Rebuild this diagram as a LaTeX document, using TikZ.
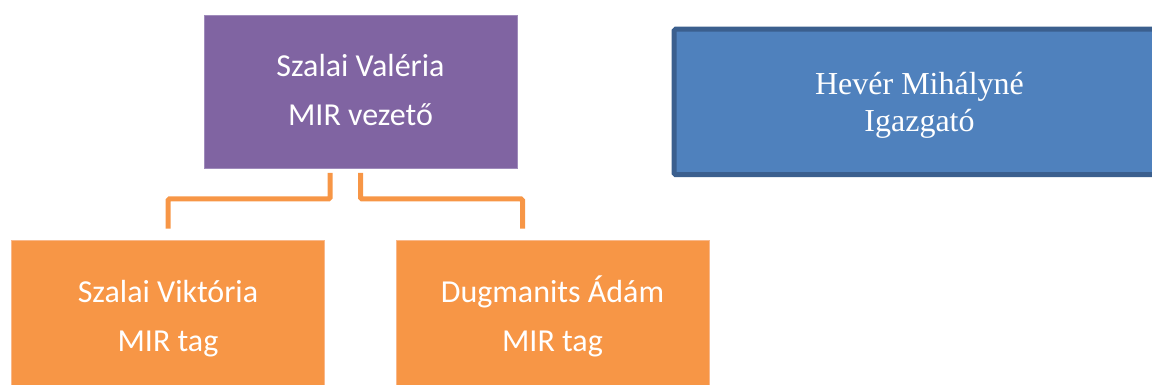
\documentclass[tikz,border=0pt]{standalone}
\usepackage{fontspec}
\setmainfont{Carlito}
\newfontfamily\timesf{Liberation Serif}
\definecolor{purp}{HTML}{8064A2}
\definecolor{purpedge}{HTML}{9F8BBB}
\definecolor{oran}{HTML}{F79646}
\definecolor{oranedge}{HTML}{F9B88A}
\definecolor{blu}{HTML}{4F81BD}
\definecolor{bluedge}{HTML}{3B5F8E}
\begin{document}
\begin{tikzpicture}[x=1pt,y=-1pt,
  boxshape/.style={rectangle,inner sep=0pt,outer sep=0pt,minimum width=313pt,minimum height=153pt},
  purpbox/.style={boxshape,fill=purp,draw=purpedge,line width=0.8pt},
  oranbox/.style={boxshape,fill=oran,draw=oranedge,line width=0.8pt},
  txt/.style={anchor=base,inner sep=0pt,text=white,font=\fontsize{32}{38}\selectfont},
  ttxt/.style={anchor=base,inner sep=0pt,text=white,font=\timesf\fontsize{32}{37}\selectfont},
  conn/.style={draw=oran,line width=5pt,rounded corners=1.5pt}]
\useasboundingbox (0,0) rectangle (1152,385);
\begin{scope}
\clip (0,0) rectangle (1152,385);
% boxes
\node[purpbox] (val) at (360.5,91.5) {};
\node[oranbox] (vik) at (168,317) {};
\node[oranbox] (ada) at (552.5,317) {};
\draw[fill=blu,draw=bluedge,line width=5pt,rounded corners=1.5pt] (674.2,29.2) rectangle (1165,174.7);
% texts
\node[txt] (valA) at (360.5,77) {Szalai Valéria};
\node[txt] (valB) at (360.5,126) {MIR vezető};
\node[txt] (vikA) at (168,302.7) {Szalai Viktória};
\node[txt] (vikB) at (168,351.7) {MIR tag};
\node[txt] (adaA) at (552.5,302.7) {Dugmanits Ádám};
\node[txt] (adaB) at (552.5,351.7) {MIR tag};
\node[ttxt] (hevA) at (919.5,95) {Hevér Mihályné};
\node[ttxt] (hevB) at (919.5,132) {Igazgató};
% connectors
\coordinate (mid) at (0,199);
\coordinate (l0) at ([xshift=-30.5pt,yshift=-5pt]val.south);
\coordinate (l1) at ([yshift=12pt]vik.north);
\coordinate (r0) at ([yshift=-5pt]val.south);
\coordinate (r1) at ([xshift=-30pt,yshift=12pt]ada.north);
\draw[conn] (l0) -- (l0 |- mid) -- (l1 |- mid) -- (l1);
\draw[conn] (r0) -- (r0 |- mid) -- (r1 |- mid) -- (r1);
\end{scope}
\end{tikzpicture}
\end{document}
